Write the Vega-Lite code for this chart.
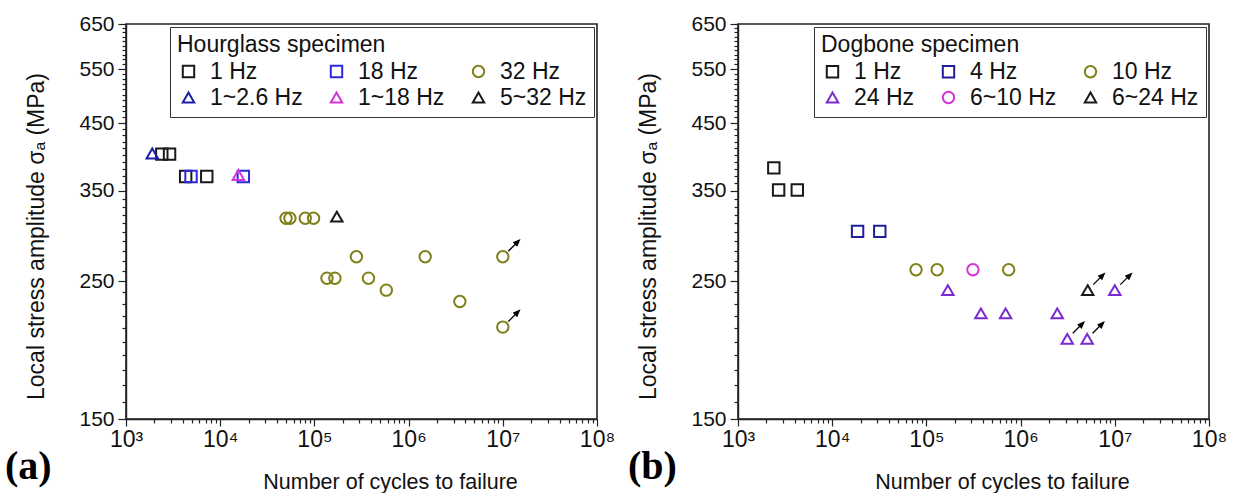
{
  "$schema": "https://vega.github.io/schema/vega-lite/v6.json",
  "padding": {"left": 4, "top": 12, "right": 0, "bottom": 0},
  "bounds": "flush",
  "spacing": 141,
  "resolve": {
    "scale": {"x": "independent", "y": "independent", "color": "independent", "shape": "independent", "size": "independent"},
    "axis": {"x": "independent", "y": "independent"},
    "legend": {"color": "independent", "shape": "independent", "size": "independent"}
  },
  "config": {
    "font": "Liberation Sans",
    "view": {"stroke": "#222", "strokeWidth": 1.6},
    "axis": {
      "grid": false,
      "labelFont": "Liberation Sans",
      "titleFont": "Liberation Sans",
      "labelFontSize": 21,
      "titleFontSize": 21.5,
      "titleFontWeight": "normal",
      "labelColor": "#111",
      "titleColor": "#111",
      "domainColor": "#222",
      "tickColor": "#222",
      "domainWidth": 1.4,
      "tickWidth": 1.2
    },
    "legend": {
      "titleFont": "Liberation Sans",
      "labelFont": "Liberation Sans",
      "titleFontSize": 23,
      "labelFontSize": 23,
      "titleFontWeight": "normal",
      "titleColor": "#111",
      "labelColor": "#111",
      "titleLimit": 600,
      "labelLimit": 300,
      "strokeColor": "#333",
      "fillColor": "#ffffff",
      "padding": 7,
      "symbolStrokeWidth": 2,
      "labelOffset": 10,
      "rowPadding": 2,
      "titlePadding": 3,
      "columnPadding": 22
    }
  },
  "datasets": {
    "hourglass": [
      {"series": "1 Hz", "N": 2400, "S": 401, "runout": false},
      {"series": "1 Hz", "N": 2900, "S": 401, "runout": false},
      {"series": "1 Hz", "N": 4300, "S": 369, "runout": false},
      {"series": "1 Hz", "N": 7200, "S": 369, "runout": false},
      {"series": "18 Hz", "N": 4900, "S": 369, "runout": false},
      {"series": "18 Hz", "N": 17600, "S": 369, "runout": false},
      {"series": "32 Hz", "N": 50000, "S": 316, "runout": false},
      {"series": "32 Hz", "N": 55000, "S": 316, "runout": false},
      {"series": "32 Hz", "N": 80000, "S": 316, "runout": false},
      {"series": "32 Hz", "N": 98000, "S": 316, "runout": false},
      {"series": "32 Hz", "N": 279000, "S": 274, "runout": false},
      {"series": "32 Hz", "N": 1500000, "S": 274, "runout": false},
      {"series": "32 Hz", "N": 10000000, "S": 274, "runout": true},
      {"series": "32 Hz", "N": 136000, "S": 253, "runout": false},
      {"series": "32 Hz", "N": 165000, "S": 253, "runout": false},
      {"series": "32 Hz", "N": 375000, "S": 253, "runout": false},
      {"series": "32 Hz", "N": 580000, "S": 242, "runout": false},
      {"series": "32 Hz", "N": 3500000, "S": 232, "runout": false},
      {"series": "32 Hz", "N": 10000000, "S": 211, "runout": true},
      {"series": "1~2.6 Hz", "N": 1900, "S": 402, "runout": false},
      {"series": "1~18 Hz", "N": 15600, "S": 371, "runout": false},
      {"series": "5~32 Hz", "N": 173000, "S": 318, "runout": false}
    ],
    "dogbone": [
      {"series": "1 Hz", "N": 2400, "S": 381, "runout": false},
      {"series": "1 Hz", "N": 2700, "S": 351, "runout": false},
      {"series": "1 Hz", "N": 4260, "S": 351, "runout": false},
      {"series": "4 Hz", "N": 18600, "S": 301, "runout": false},
      {"series": "4 Hz", "N": 32000, "S": 301, "runout": false},
      {"series": "10 Hz", "N": 77600, "S": 261, "runout": false},
      {"series": "10 Hz", "N": 130000, "S": 261, "runout": false},
      {"series": "10 Hz", "N": 747000, "S": 261, "runout": false},
      {"series": "6~10 Hz", "N": 312000, "S": 261, "runout": false},
      {"series": "24 Hz", "N": 169000, "S": 242, "runout": false},
      {"series": "24 Hz", "N": 379000, "S": 222, "runout": false},
      {"series": "24 Hz", "N": 693000, "S": 222, "runout": false},
      {"series": "24 Hz", "N": 2450000, "S": 222, "runout": false},
      {"series": "24 Hz", "N": 10000000, "S": 242, "runout": true},
      {"series": "24 Hz", "N": 3130000, "S": 202, "runout": true},
      {"series": "24 Hz", "N": 5090000, "S": 202, "runout": true},
      {"series": "6~24 Hz", "N": 5160000, "S": 242, "runout": true}
    ]
  },
  "hconcat": [
    {
      "width": 471,
      "height": 395,
      "title": {"text": "(a)", "orient": "bottom", "anchor": "start", "frame": "group", "font": "Liberation Serif", "fontSize": 40, "fontWeight": "bold", "color": "#000", "dx": -121, "dy": -46, "offset": 0},
      "data": {"name": "hourglass"},
      "layer": [
        {
          "mark": {"type": "point", "filled": false, "strokeWidth": 2, "opacity": 1},
          "encoding": {
            "x": {"field": "N", "type": "quantitative",
              "scale": {"type": "log", "domain": [1000, 100000000], "nice": false},
              "axis": {
                "values": [1000,2000,3000,4000,5000,6000,7000,8000,9000,10000,20000,30000,40000,50000,60000,70000,80000,90000,100000,200000,300000,400000,500000,600000,700000,800000,900000,1000000,2000000,3000000,4000000,5000000,6000000,7000000,8000000,9000000,10000000,20000000,30000000,40000000,50000000,60000000,70000000,80000000,90000000,100000000],
                "labelExpr": "abs(log(datum.value)/LN10 - round(log(datum.value)/LN10)) < 0.001 ? '10' + ['⁰','¹','²','³','⁴','⁵','⁶','⁷','⁸','⁹'][round(log(datum.value)/LN10)] : ''",
                "tickSize": {"condition": {"test": "abs(log(datum.value)/LN10 - round(log(datum.value)/LN10)) < 0.001", "value": 7}, "value": 4},
                "labelOverlap": false, "labelFlush": false, "labelPadding": 2, "labelFontSize": 23,
                "title": "Number of cycles to failure", "titlePadding": 20, "titleX": 264
              }},
            "y": {"field": "S", "type": "quantitative",
              "scale": {"type": "log", "domain": [150, 650], "nice": false},
              "axis": {
                "values": [150,160,170,180,190,200,210,220,230,240,250,260,270,280,290,300,310,320,330,340,350,360,370,380,390,400,410,420,430,440,450,460,470,480,490,500,510,520,530,540,550,560,570,580,590,600,610,620,630,640,650],
                "labelExpr": "datum.value % 100 == 50 ? datum.label : ''",
                "tickSize": {"condition": {"test": "datum.value % 100 == 50", "value": 8}, "value": 4},
                "labelOverlap": false, "labelPadding": 4, "format": "d", "titleFontSize": 23,
                "title": "Local stress amplitude σₐ (MPa)", "titlePadding": 30, "titleY": 212
              }},
            "color": {"field": "series", "type": "nominal",
              "scale": {"domain": ["1 Hz", "18 Hz", "32 Hz", "1~2.6 Hz", "1~18 Hz", "5~32 Hz"],
                        "range": ["#1a1a1a", "#2a2ae0", "#80801a", "#1c1ca8", "#d634d6", "#1a1a1a"]},
              "legend": {"title": "Hourglass specimen", "orient": "top-right", "offset": 3, "columns": 3, "gridAlign": "none", "direction": "horizontal"}},
            "shape": {"field": "series", "type": "nominal",
              "scale": {"domain": ["1 Hz", "18 Hz", "32 Hz", "1~2.6 Hz", "1~18 Hz", "5~32 Hz"],
                        "range": ["square", "square", "circle", "triangle-up", "triangle-up", "triangle-up"]}},
            "size": {"field": "series", "type": "nominal",
              "scale": {"domain": ["1 Hz", "18 Hz", "32 Hz", "1~2.6 Hz", "1~18 Hz", "5~32 Hz"],
                        "range": [130, 130, 170, 250, 250, 250]}}
          }
        },
        {
          "transform": [{"filter": "datum.runout"}],
          "mark": {"type": "point", "shape": "M0.55,-0.55L1.3,-1.3M1.65,-1.65L1.417,-1.105L1.105,-1.417Z", "filled": true, "fill": "#000", "stroke": "#000", "strokeWidth": 1.3, "size": 400, "opacity": 1},
          "encoding": {
            "x": {"field": "N", "type": "quantitative"},
            "y": {"field": "S", "type": "quantitative"}
          }
        }
      ]
    },
    {
      "width": 471,
      "height": 395,
      "title": {"text": "(b)", "orient": "bottom", "anchor": "start", "frame": "group", "font": "Liberation Serif", "fontSize": 40, "fontWeight": "bold", "color": "#000", "dx": -110, "dy": -46, "offset": 0},
      "data": {"name": "dogbone"},
      "layer": [
        {
          "mark": {"type": "point", "filled": false, "strokeWidth": 2, "opacity": 1},
          "encoding": {
            "x": {"field": "N", "type": "quantitative",
              "scale": {"type": "log", "domain": [1000, 100000000], "nice": false},
              "axis": {
                "values": [1000,2000,3000,4000,5000,6000,7000,8000,9000,10000,20000,30000,40000,50000,60000,70000,80000,90000,100000,200000,300000,400000,500000,600000,700000,800000,900000,1000000,2000000,3000000,4000000,5000000,6000000,7000000,8000000,9000000,10000000,20000000,30000000,40000000,50000000,60000000,70000000,80000000,90000000,100000000],
                "labelExpr": "abs(log(datum.value)/LN10 - round(log(datum.value)/LN10)) < 0.001 ? '10' + ['⁰','¹','²','³','⁴','⁵','⁶','⁷','⁸','⁹'][round(log(datum.value)/LN10)] : ''",
                "tickSize": {"condition": {"test": "abs(log(datum.value)/LN10 - round(log(datum.value)/LN10)) < 0.001", "value": 7}, "value": 4},
                "labelOverlap": false, "labelFlush": false, "labelPadding": 2, "labelFontSize": 23,
                "title": "Number of cycles to failure", "titlePadding": 20, "titleX": 264
              }},
            "y": {"field": "S", "type": "quantitative",
              "scale": {"type": "log", "domain": [150, 650], "nice": false},
              "axis": {
                "values": [150,160,170,180,190,200,210,220,230,240,250,260,270,280,290,300,310,320,330,340,350,360,370,380,390,400,410,420,430,440,450,460,470,480,490,500,510,520,530,540,550,560,570,580,590,600,610,620,630,640,650],
                "labelExpr": "datum.value % 100 == 50 ? datum.label : ''",
                "tickSize": {"condition": {"test": "datum.value % 100 == 50", "value": 8}, "value": 4},
                "labelOverlap": false, "labelPadding": 4, "format": "d", "titleFontSize": 23,
                "title": "Local stress amplitude σₐ (MPa)", "titlePadding": 30, "titleY": 212
              }},
            "color": {"field": "series", "type": "nominal",
              "scale": {"domain": ["1 Hz", "4 Hz", "10 Hz", "24 Hz", "6~10 Hz", "6~24 Hz"],
                        "range": ["#1a1a1a", "#1f1f9c", "#80801a", "#7a2ad0", "#d634d6", "#1a1a1a"]},
              "legend": {"title": "Dogbone specimen", "orient": "top-right", "offset": 3, "columns": 3, "gridAlign": "each", "direction": "horizontal"}},
            "shape": {"field": "series", "type": "nominal",
              "scale": {"domain": ["1 Hz", "4 Hz", "10 Hz", "24 Hz", "6~10 Hz", "6~24 Hz"],
                        "range": ["square", "square", "circle", "triangle-up", "circle", "triangle-up"]}},
            "size": {"field": "series", "type": "nominal",
              "scale": {"domain": ["1 Hz", "4 Hz", "10 Hz", "24 Hz", "6~10 Hz", "6~24 Hz"],
                        "range": [130, 130, 170, 250, 170, 250]}}
          }
        },
        {
          "transform": [{"filter": "datum.runout"}],
          "mark": {"type": "point", "shape": "M0.55,-0.55L1.3,-1.3M1.65,-1.65L1.417,-1.105L1.105,-1.417Z", "filled": true, "fill": "#000", "stroke": "#000", "strokeWidth": 1.3, "size": 400, "opacity": 1},
          "encoding": {
            "x": {"field": "N", "type": "quantitative"},
            "y": {"field": "S", "type": "quantitative"}
          }
        }
      ]
    }
  ]
}
